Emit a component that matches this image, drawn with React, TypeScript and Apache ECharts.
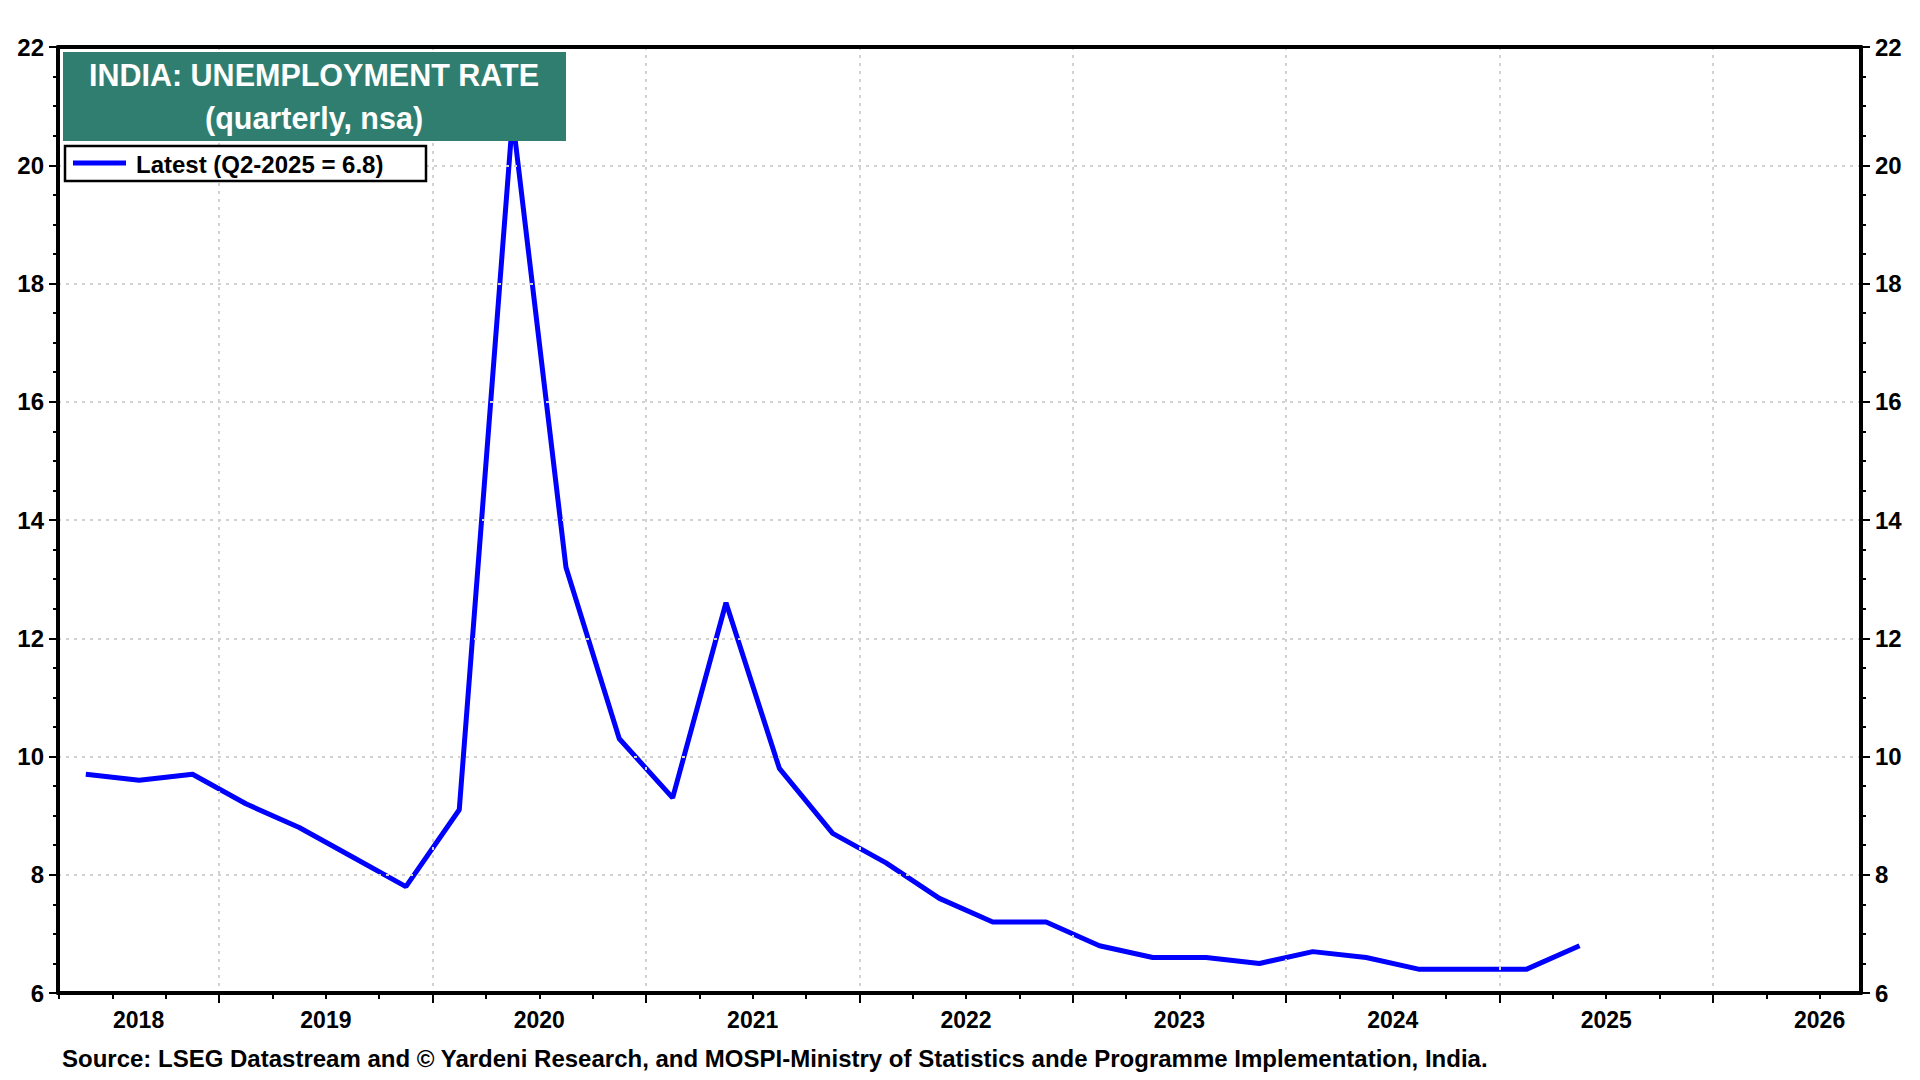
import React, { useEffect, useRef } from "react";
import * as echarts from "echarts";

// ---- data ----
const quarters: string[] = [
  "Q2-2018", "Q3-2018", "Q4-2018",
  "Q1-2019", "Q2-2019", "Q3-2019", "Q4-2019",
  "Q1-2020", "Q2-2020", "Q3-2020", "Q4-2020",
  "Q1-2021", "Q2-2021", "Q3-2021", "Q4-2021",
  "Q1-2022", "Q2-2022", "Q3-2022", "Q4-2022",
  "Q1-2023", "Q2-2023", "Q3-2023", "Q4-2023",
  "Q1-2024", "Q2-2024", "Q3-2024", "Q4-2024",
  "Q1-2025", "Q2-2025",
];
const unemployment: number[] = [
  9.7, 9.6, 9.7,
  9.2, 8.8, 8.3, 7.8,
  9.1, 20.8, 13.2, 10.3,
  9.3, 12.6, 9.8, 8.7,
  8.2, 7.6, 7.2, 7.2,
  6.8, 6.6, 6.6, 6.5,
  6.7, 6.6, 6.4, 6.4,
  6.4, 6.8,
];
const yearLabels: number[] = [2018, 2019, 2020, 2021, 2022, 2023, 2024, 2025, 2026];
const yTicks: number[] = [6, 8, 10, 12, 14, 16, 18, 20, 22];
const titleLines: string[] = ["INDIA: UNEMPLOYMENT RATE", "(quarterly, nsa)"];
const sourceText =
  "Source: LSEG Datastream and © Yardeni Research, and MOSPI-Ministry of Statistics ande Programme Implementation, India.";

const FONT = '"Liberation Sans", Arial, Helvetica, sans-serif';

// quarter label -> decimal year at mid-quarter
function quarterToX(q: string): number {
  const [qs, ys] = q.split("-");
  const qi = parseInt(qs.slice(1), 10);
  return parseInt(ys, 10) + (qi - 1) * 0.25 + 0.125;
}

export default function App() {
  const ref = useRef<HTMLDivElement>(null);

  useEffect(() => {
    if (!ref.current) return;
    const chart = echarts.init(ref.current, undefined, { renderer: "svg" });

    const xMin = 2018.2446;
    const xMax = 2026.694;
    const yearBounds = yearLabels.filter((y) => y > xMin && y < xMax);
    const quarterTicks: number[] = [];
    yearLabels.forEach((y) => {
      [0, 0.25, 0.5, 0.75].forEach((f) => {
        const v = y + f;
        if (v >= xMin && v <= xMax) quarterTicks.push(v);
      });
    });
    const labelPos = yearLabels.map((y) =>
      y === 2018 ? (xMin + 2019) / 2 : y + 0.5
    );

    const seriesData = quarters.map((q, i) => [quarterToX(q), unemployment[i]]);
    const lastIdx = quarters.length - 1;
    const legendText = `Latest (${quarters[lastIdx]} = ${unemployment[lastIdx]})`;

    const grid = { left: 58, right: 59, top: 47, bottom: 87 };

    const yAxisCommon = {
      type: "value",
      min: yTicks[0],
      max: yTicks[yTicks.length - 1],
      interval: 2,
      axisLine: { show: true, lineStyle: { color: "#000", width: 4 } },
      axisTick: { show: true, length: 9, lineStyle: { color: "#000", width: 2 } },
      minorTick: { show: true, splitNumber: 4, length: 5, lineStyle: { color: "#000", width: 2 } },
      axisLabel: {
        color: "#000",
        fontFamily: FONT,
        fontWeight: "bold",
        fontSize: 24,
        margin: 14,
      },
    };

    const option: any = {
      animation: false,
      backgroundColor: "#fff",
      grid: { ...grid, show: false },
      xAxis: [
        {
          type: "value",
          min: xMin,
          max: xMax,
          position: "bottom",
          z: 5,
          axisLine: { show: true, onZero: false, lineStyle: { color: "#000", width: 4 } },
          axisTick: {
            show: true,
            length: 10,
            customValues: yearBounds,
            lineStyle: { color: "#000", width: 2 },
          },
          axisLabel: {
            show: true,
            customValues: labelPos,
            formatter: (v: number) => String(Math.floor(v)),
            color: "#000",
            fontFamily: FONT,
            fontWeight: "bold",
            fontSize: 23,
            margin: 15,
          },
          splitLine: {
            show: true,
            lineStyle: { color: "#d2d2d2", width: 2, type: [3, 5] },
          },
        },
        {
          type: "value",
          min: xMin,
          max: xMax,
          position: "bottom",
          axisLine: { show: false, onZero: false },
          axisTick: {
            show: true,
            length: 6,
            customValues: quarterTicks,
            lineStyle: { color: "#000", width: 2 },
          },
          axisLabel: { show: false },
          splitLine: { show: false },
        },
        {
          type: "value",
          min: xMin,
          max: xMax,
          position: "top",
          z: 5,
          axisLine: { show: true, onZero: false, lineStyle: { color: "#000", width: 4 } },
          axisTick: { show: false },
          axisLabel: { show: false },
          splitLine: { show: false },
        },
      ],
      yAxis: [
        {
          ...yAxisCommon,
          position: "left",
          z: 5,
          splitLine: {
            show: true,
            lineStyle: { color: "#d2d2d2", width: 2, type: [3, 5] },
          },
        },
        {
          ...yAxisCommon,
          position: "right",
          z: 5,
          splitLine: { show: false },
        },
      ],
      series: [
        {
          type: "line",
          xAxisIndex: 0,
          yAxisIndex: 0,
          data: seriesData,
          showSymbol: false,
          symbol: "none",
          lineStyle: { color: "#0000ff", width: 5 },
          z: 3,
        },
      ],
      graphic: [
        {
          type: "rect",
          z: 100,
          shape: { x: 63, y: 52, width: 503, height: 89 },
          style: { fill: "#307e70" },
        },
        {
          type: "text",
          z: 101,
          x: 314,
          y: 75,
          style: {
            text: titleLines[0],
            fill: "#fff",
            font: `bold 30.5px ${FONT}`,
            textAlign: "center",
            textVerticalAlign: "middle",
          },
        },
        {
          type: "text",
          z: 101,
          x: 314,
          y: 118,
          style: {
            text: titleLines[1],
            fill: "#fff",
            font: `bold 30.5px ${FONT}`,
            textAlign: "center",
            textVerticalAlign: "middle",
          },
        },
        {
          type: "rect",
          z: 100,
          shape: { x: 65, y: 146, width: 361, height: 35 },
          style: { fill: "#fff", stroke: "#000", lineWidth: 2.5 },
        },
        {
          type: "line",
          z: 101,
          shape: { x1: 73, y1: 163, x2: 126, y2: 163 },
          style: { stroke: "#0000ff", lineWidth: 5 },
        },
        {
          type: "text",
          z: 101,
          x: 136,
          y: 164,
          style: {
            text: legendText,
            fill: "#000",
            font: `bold 24px ${FONT}`,
            textAlign: "left",
            textVerticalAlign: "middle",
          },
        },
        {
          type: "text",
          z: 101,
          x: 62,
          y: 1058,
          style: {
            text: sourceText,
            fill: "#000",
            font: `bold 24px ${FONT}`,
            textAlign: "left",
            textVerticalAlign: "middle",
          },
        },
      ],
    };

    chart.setOption(option);
    return () => chart.dispose();
  }, []);

  return (
    <div
      ref={ref}
      style={{ position: "absolute", left: 0, top: 0, width: 1920, height: 1080 }}
    />
  );
}
